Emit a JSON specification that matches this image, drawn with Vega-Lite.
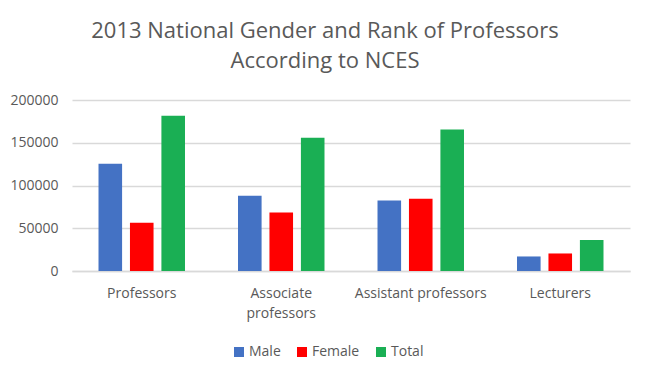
{
  "$schema": "https://vega.github.io/schema/vega-lite/v6.json",
  "autosize": {"type": "fit", "contains": "padding"},
  "width": 650,
  "height": 380,
  "padding": {"left": 9, "right": 20, "top": 20, "bottom": 60},
  "background": "white",
  "config": {
    "font": "Open Sans",
    "view": {"stroke": null}
  },
  "title": {
    "text": ["2013 National Gender and Rank of Professors", "According to NCES"],
    "fontSize": 22,
    "fontWeight": "normal",
    "color": "#595959",
    "lineHeight": 30,
    "anchor": "middle",
    "frame": "group",
    "dx": -26,
    "offset": 20
  },
  "data": {
    "values": [
      {"rank": "Professors", "series": "Male", "count": 125500},
      {"rank": "Professors", "series": "Female", "count": 56300},
      {"rank": "Professors", "series": "Total", "count": 181500},
      {"rank": "Associate professors", "series": "Male", "count": 88000},
      {"rank": "Associate professors", "series": "Female", "count": 68500},
      {"rank": "Associate professors", "series": "Total", "count": 155800},
      {"rank": "Assistant professors", "series": "Male", "count": 82600},
      {"rank": "Assistant professors", "series": "Female", "count": 84500},
      {"rank": "Assistant professors", "series": "Total", "count": 165600},
      {"rank": "Lecturers", "series": "Male", "count": 17000},
      {"rank": "Lecturers", "series": "Female", "count": 20500},
      {"rank": "Lecturers", "series": "Total", "count": 36300}
    ]
  },
  "mark": {"type": "bar"},
  "encoding": {
    "x": {
      "field": "rank",
      "type": "nominal",
      "sort": ["Professors", "Associate professors", "Assistant professors", "Lecturers"],
      "scale": {"paddingInner": 0.38, "paddingOuter": 0.19},
      "axis": {
        "title": null,
        "labelAngle": 0,
        "labelFontSize": 14,
        "labelColor": "#595959",
        "labelPadding": 15,
        "labelLineHeight": 20,
        "labelExpr": "datum.value == 'Associate professors' ? ['Associate', 'professors'] : datum.value",
        "domain": true,
        "domainColor": "#d9d9d9",
        "domainWidth": 1.5,
        "ticks": false
      }
    },
    "xOffset": {
      "field": "series",
      "type": "nominal",
      "sort": ["Male", "Female", "Total"],
      "scale": {"paddingInner": 0.25, "paddingOuter": 0}
    },
    "y": {
      "field": "count",
      "type": "quantitative",
      "scale": {"domain": [0, 200000]},
      "axis": {
        "title": null,
        "values": [0, 50000, 100000, 150000, 200000],
        "format": "d",
        "labelFontSize": 14,
        "labelColor": "#595959",
        "labelPadding": 14,
        "domain": false,
        "ticks": false,
        "gridColor": "#d9d9d9",
        "gridWidth": 1.5
      }
    },
    "color": {
      "field": "series",
      "type": "nominal",
      "sort": ["Male", "Female", "Total"],
      "scale": {"domain": ["Male", "Female", "Total"], "range": ["#4472c4", "#ff0000", "#1aaf54"]},
      "legend": {
        "title": null,
        "orient": "none",
        "legendX": 160,
        "legendY": 245,
        "direction": "horizontal",
        "symbolType": "square",
        "symbolSize": 100,
        "symbolStrokeWidth": 0,
        "labelOffset": 3,
        "labelFontSize": 14,
        "labelColor": "#595959",
        "columnPadding": 14
      }
    }
  }
}
